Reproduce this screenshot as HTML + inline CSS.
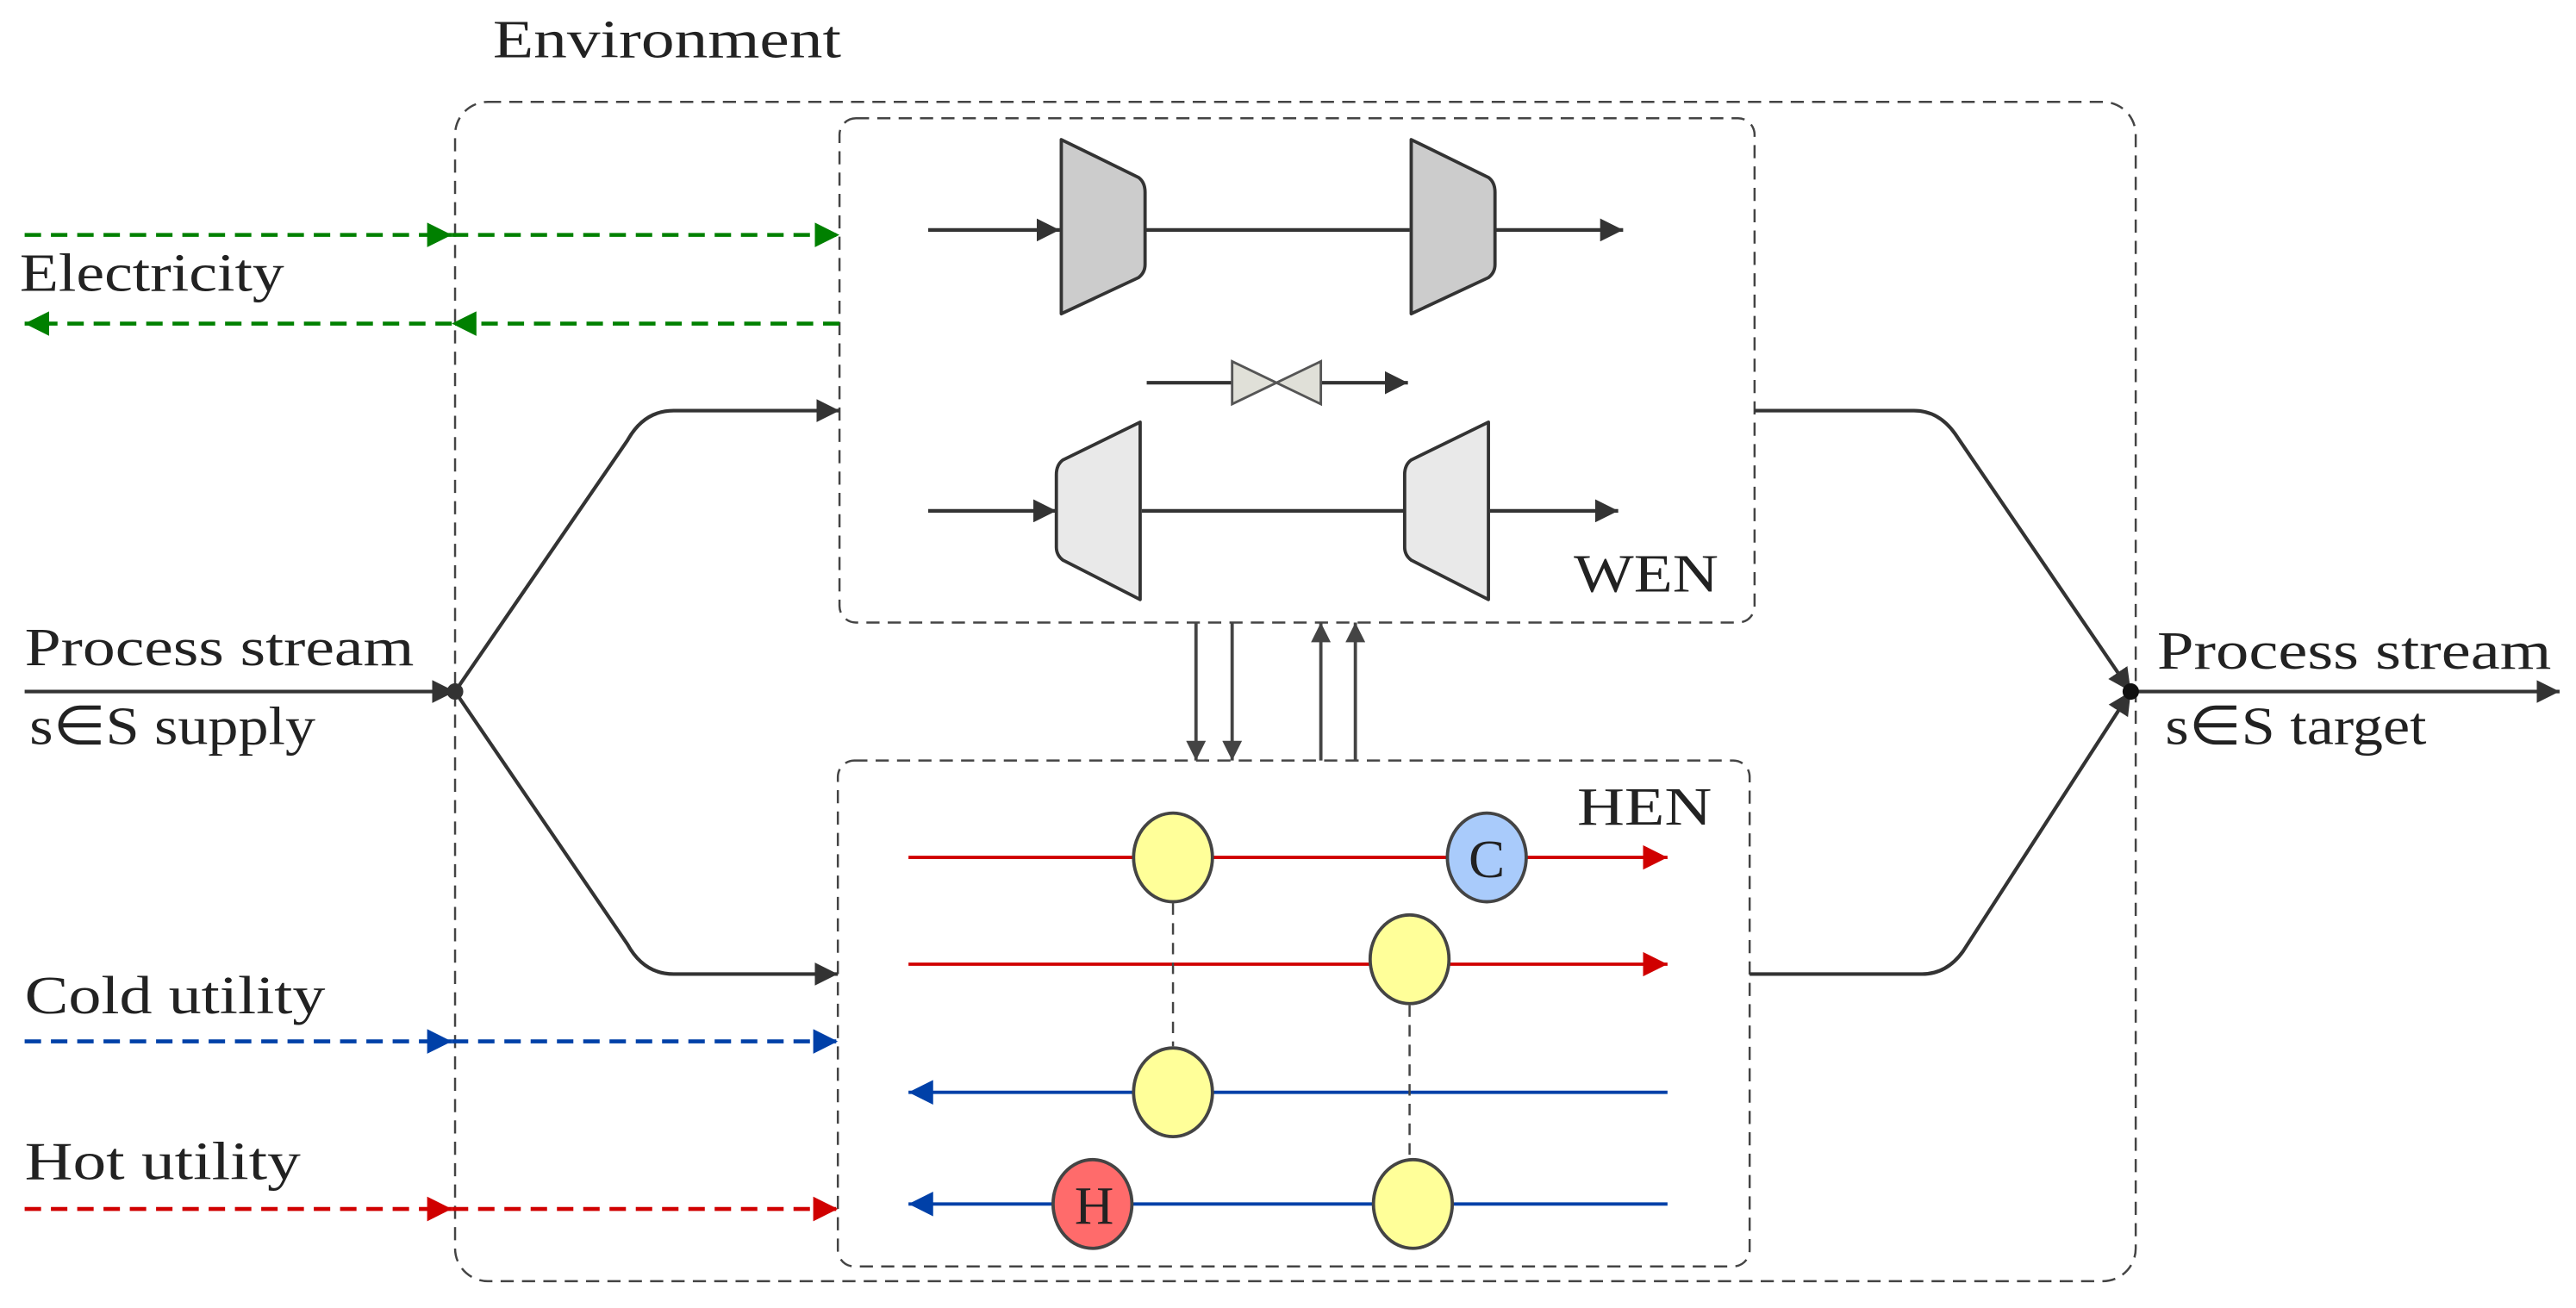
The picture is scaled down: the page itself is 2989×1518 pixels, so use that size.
<!DOCTYPE html>
<html><head><meta charset="utf-8"><style>html,body{margin:0;padding:0;background:#fff}svg{display:block}</style></head>
<body>
<svg width="2989" height="1518" viewBox="0 0 1568 796.3" xmlns="http://www.w3.org/2000/svg" font-family="Liberation Serif, serif">
<defs>
<marker id="ak2" viewBox="0 0 10 10" markerWidth="14" markerHeight="14" refX="10" refY="5" orient="auto" markerUnits="userSpaceOnUse"><path d="M0,0 L10,5 L0,10 Z" fill="#333"/></marker>
<marker id="ag" viewBox="0 0 10 10" markerWidth="15" markerHeight="15" refX="10" refY="5" orient="auto" markerUnits="userSpaceOnUse"><path d="M0,0 L10,5 L0,10 Z" fill="#008000"/></marker>
<marker id="ab" viewBox="0 0 10 10" markerWidth="15" markerHeight="15" refX="10" refY="5" orient="auto" markerUnits="userSpaceOnUse"><path d="M0,0 L10,5 L0,10 Z" fill="#0040a8"/></marker>
<marker id="ar" viewBox="0 0 10 10" markerWidth="15" markerHeight="15" refX="10" refY="5" orient="auto" markerUnits="userSpaceOnUse"><path d="M0,0 L10,5 L0,10 Z" fill="#d00000"/></marker>
<marker id="ay" viewBox="0 0 10 10" markerWidth="12" markerHeight="12" refX="10" refY="5" orient="auto" markerUnits="userSpaceOnUse"><path d="M0,0 L10,5 L0,10 Z" fill="#444"/></marker>
</defs>
<g fill="none" stroke="#444" stroke-width="1.3" stroke-dasharray="8,5">
<rect x="277" y="62" width="1023" height="718" rx="20"/>
<rect x="511" y="72" width="557" height="307" rx="10"/>
<rect x="510" y="463" width="555" height="308" rx="10"/>
</g>
<g font-size="33" fill="#222" lengthAdjust="spacingAndGlyphs">
<text x="300" y="35" textLength="212" lengthAdjust="spacingAndGlyphs">Environment</text>
<text x="12" y="177" textLength="161" lengthAdjust="spacingAndGlyphs">Electricity</text>
<text x="15" y="405" textLength="237" lengthAdjust="spacingAndGlyphs">Process stream</text>
<text x="18" y="453" textLength="174" lengthAdjust="spacingAndGlyphs">s∈S supply</text>
<text x="1313" y="407" textLength="240" lengthAdjust="spacingAndGlyphs">Process stream</text>
<text x="1318" y="453" textLength="159" lengthAdjust="spacingAndGlyphs">s∈S target</text>
<text x="15" y="617" textLength="183" lengthAdjust="spacingAndGlyphs">Cold utility</text>
<text x="15" y="718" textLength="168" lengthAdjust="spacingAndGlyphs">Hot utility</text>
<text x="958" y="360" textLength="88" lengthAdjust="spacingAndGlyphs">WEN</text>
<text x="960" y="502" textLength="82" lengthAdjust="spacingAndGlyphs">HEN</text>
</g>
<g stroke-width="2.4" stroke-dasharray="10,6" fill="none">
<path d="M15,143 H275" stroke="#008000" marker-end="url(#ag)"/>
<path d="M275,143 H511" stroke="#008000" marker-end="url(#ag)"/>
<path d="M511,197 H275" stroke="#008000" marker-end="url(#ag)"/>
<path d="M275,197 H15" stroke="#008000" marker-end="url(#ag)"/>
<path d="M15,634 H275" stroke="#0040a8" marker-end="url(#ab)"/>
<path d="M275,634 H510" stroke="#0040a8" marker-end="url(#ab)"/>
<path d="M15,736 H275" stroke="#d00000" marker-end="url(#ar)"/>
<path d="M275,736 H510" stroke="#d00000" marker-end="url(#ar)"/>
</g>
<g stroke="#333" stroke-width="2.2" fill="none">
<path d="M15,421 H277" marker-end="url(#ak2)"/>
<path d="M277,421 L382,268 Q392,250 410,250 H511" marker-end="url(#ak2)"/>
<path d="M277,421 L382,575 Q392,593 410,593 H510" marker-end="url(#ak2)"/>
<path d="M1068,250 H1165 Q1180,250 1190,264 L1297,421" marker-end="url(#ak2)"/>
<path d="M1065,593 H1170 Q1185,593 1195,579 L1297,421" marker-end="url(#ak2)"/>
<path d="M1297,421 H1558" marker-end="url(#ak2)"/>
<path d="M565,140 H645" marker-end="url(#ak2)"/>
<path d="M697,140 H858"/>
<path d="M910,140 H988" marker-end="url(#ak2)"/>
<path d="M698,233 H750"/>
<path d="M804,233 H857" marker-end="url(#ak2)"/>
<path d="M565,311 H643" marker-end="url(#ak2)"/>
<path d="M695,311 H855"/>
<path d="M907,311 H985" marker-end="url(#ak2)"/>
</g>
<circle cx="277" cy="421" r="5" fill="#333"/>
<circle cx="1297" cy="421" r="5" fill="#111"/>
<g stroke="#333" stroke-width="2" stroke-linejoin="round">
<path d="M646,85 L693,108 Q697,111 697,117 V161 Q697,166 693,169 L646,191 Z" fill="#cccccc"/>
<path d="M859,85 L906,108 Q910,111 910,117 V161 Q910,166 906,169 L859,191 Z" fill="#cccccc"/>
<path d="M694,257 L647,280 Q643,283 643,289 V333 Q643,338 647,341 L694,365 Z" fill="#e9e9e9"/>
<path d="M906,257 L859,280 Q855,283 855,289 V333 Q855,338 859,341 L906,365 Z" fill="#e9e9e9"/>
</g>
<path d="M750,220 L804,246 V220 L750,246 Z" fill="#e0e0d8" stroke="#555" stroke-width="1.5"/>
<g stroke="#444" stroke-width="2" fill="none">
<path d="M728,379 V463" marker-end="url(#ay)"/>
<path d="M750,379 V463" marker-end="url(#ay)"/>
<path d="M804,463 V379" marker-end="url(#ay)"/>
<path d="M825,463 V379" marker-end="url(#ay)"/>
</g>
<g stroke-width="2" fill="none">
<path d="M553,522 H1015" stroke="#d00000" marker-end="url(#ar)"/>
<path d="M553,587 H1015" stroke="#d00000" marker-end="url(#ar)"/>
<path d="M1015,665 H553" stroke="#0040a8" marker-end="url(#ab)"/>
<path d="M1015,733 H553" stroke="#0040a8" marker-end="url(#ab)"/>
<path d="M714,550 V637" stroke="#444" stroke-width="1.3" stroke-dasharray="7,5"/>
<path d="M858,612 V705" stroke="#444" stroke-width="1.3" stroke-dasharray="7,5"/>
</g>
<g stroke="#444" stroke-width="2">
<ellipse cx="714" cy="522" rx="24" ry="27" fill="#ffff99"/>
<ellipse cx="858" cy="584" rx="24" ry="27" fill="#ffff99"/>
<ellipse cx="714" cy="665" rx="24" ry="27" fill="#ffff99"/>
<ellipse cx="860" cy="733" rx="24" ry="27" fill="#ffff99"/>
<ellipse cx="905" cy="522" rx="24" ry="27" fill="#a9cbfb"/>
<ellipse cx="665" cy="733" rx="24" ry="27" fill="#ff6b6b"/>
</g>
<g font-size="33" fill="#222" text-anchor="middle">
<text x="905" y="534">C</text>
<text x="666" y="745">H</text>
</g>
</svg>
</body></html>
